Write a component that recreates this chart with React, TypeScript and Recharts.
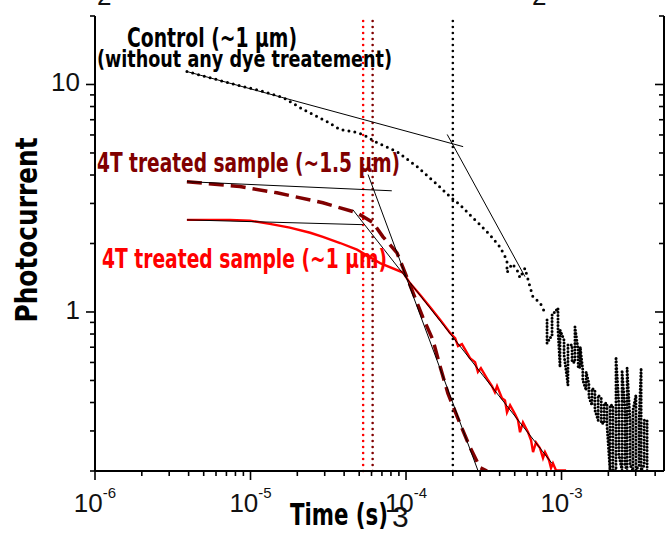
import React from 'react';
import { ComposedChart, Line, XAxis, YAxis, ReferenceLine } from 'recharts';

// values (time in s, photocurrent in a.u.)
const controlTrace: [number, number][] = [
  [3.9e-6, 11.4], [5.5e-6, 10.7], [7.9e-6, 10.0], [1.15e-5, 9.4], [1.62e-5, 8.77],
  [2.18e-5, 7.77], [3.1e-5, 6.87], [3.77e-5, 6.34], [4.56e-5, 6.21], [5.28e-5, 6.03],
  [6.51e-5, 5.55], [8.75e-5, 5.07], [1.18e-4, 4.35], [1.54e-4, 3.7], [1.92e-4, 3.21],
  [2.22e-4, 2.96], [2.65e-4, 2.62], [2.99e-4, 2.42], [3.47e-4, 2.18], [4.02e-4, 1.93],
  [4.46e-4, 1.69], [4.46e-4, 1.49], [4.81e-4, 1.63], [5.18e-4, 1.53], [5.41e-4, 1.41],
  [5.82e-4, 1.56], [6.27e-4, 1.29], [6.56e-4, 1.16], [7.27e-4, 1.1], [7.83e-4, 0.99],
];

// noisy tail of the control trace: [time, upper value, lower value] per column
const controlTail: [number, number, number][] = [
  [8.07e-4, 0.923, 0.73], [8.69e-4, 0.97, 0.792], [9.49e-4, 1.04, 0.834], [9.78e-4, 0.834, 0.573],
  [1.038e-3, 0.753, 0.647], [1.1e-3, 0.716, 0.477], [1.169e-3, 0.716, 0.602], [1.22e-3, 0.859, 0.602],
  [1.28e-3, 0.681, 0.567], [1.32e-3, 0.702, 0.573], [1.37e-3, 0.555, 0.501], [1.44e-3, 0.545, 0.453],
  [1.5e-3, 0.486, 0.423], [1.57e-3, 0.462, 0.389], [1.64e-3, 0.453, 0.37], [1.72e-3, 0.431, 0.334],
  [1.8e-3, 0.418, 0.324], [1.88e-3, 0.397, 0.324], [1.96e-3, 0.397, 0.318], [2.05e-3, 0.389, 0.201],
  [2.14e-3, 0.389, 0.201], [2.24e-3, 0.634, 0.201], [2.34e-3, 0.389, 0.234], [2.45e-3, 0.555, 0.201],
  [2.56e-3, 0.37, 0.212], [2.64e-3, 0.567, 0.201], [2.76e-3, 0.334, 0.212], [2.88e-3, 0.37, 0.201],
  [3.01e-3, 0.431, 0.201], [3.15e-3, 0.334, 0.212], [3.25e-3, 0.567, 0.201], [3.4e-3, 0.334, 0.212],
  [3.55e-3, 0.334, 0.201],
];

const thickTrace: [number, number][] = [
  [3.9e-6, 3.74], [8.55e-6, 3.56], [1.48e-5, 3.34], [2.92e-5, 3.02], [4.84e-5, 2.73],
  [6.14e-5, 2.47], [7.11e-5, 2.14], [8.75e-5, 1.82], [1.03e-4, 1.38], [1.28e-4, 0.951],
  [1.49e-4, 0.753], [1.66e-4, 0.573], [1.86e-4, 0.439], [2.22e-4, 0.324], [2.58e-4, 0.254],
  [2.99e-4, 0.207], [3.32e-4, 0.2],
];

const thinTrace: [number, number][] = [
  [3.9e-6, 2.54], [7.38e-6, 2.54], [9.93e-6, 2.52], [1.33e-5, 2.44], [1.79e-5, 2.35],
  [2.42e-5, 2.23], [2.92e-5, 2.14], [3.77e-5, 2.01], [4.84e-5, 1.88], [6.81e-5, 1.64],
  [9.57e-5, 1.49], [1.06e-4, 1.34], [1.23e-4, 1.19], [1.43e-4, 1.05], [1.66e-4, 0.923],
  [1.92e-4, 0.808], [2.07e-4, 0.768], [2.16e-4, 0.708], [2.29e-4, 0.722], [2.58e-4, 0.627],
  [2.78e-4, 0.602], [2.9e-4, 0.545], [3.03e-4, 0.567], [3.37e-4, 0.501], [3.57e-4, 0.472],
  [3.73e-4, 0.444], [3.85e-4, 0.472], [4.14e-4, 0.418], [4.33e-4, 0.409], [4.46e-4, 0.362],
  [4.67e-4, 0.389], [5.02e-4, 0.356], [5.25e-4, 0.334], [5.41e-4, 0.296], [5.65e-4, 0.327],
  [6.09e-4, 0.296], [6.37e-4, 0.273], [6.56e-4, 0.242], [6.85e-4, 0.267], [7.27e-4, 0.252],
  [7.6e-4, 0.228], [7.83e-4, 0.242], [8.31e-4, 0.223], [8.56e-4, 0.206], [8.81e-4, 0.216],
  [9.22e-4, 0.201], [1.07e-3, 0.201],
];

// fitted straight lines (two end points each)
const controlFitEarly: [number, number][] = [[3.9e-6, 11.4], [2.33e-4, 5.33]];
const controlFitLate: [number, number][] = [[1.84e-4, 6.03], [5.82e-4, 1.43]];
const thickFitEarly: [number, number][] = [[3.9e-6, 3.74], [8.1e-5, 3.41]];
const thickFitLate: [number, number][] = [[5.7e-5, 4.02], [2.9e-4, 0.201]];
const thinFitEarly: [number, number][] = [[3.9e-6, 2.54], [5.28e-5, 2.42]];
const thinFitLate: [number, number][] = [[4.56e-5, 2.81], [8.69e-4, 0.216]];

// vertical transition markers
const markerTimes = [5.3e-5, 6.1e-5, 2e-4];

const xMajor = [1e-6, 1e-5, 1e-4, 1e-3];
const yMajor = [1, 10];
const mantissas = [2, 3, 4, 5, 6, 7, 8, 9];

const X_DOMAIN: [number, number] = [1e-6, 4.56e-3];
const Y_DOMAIN: [number, number] = [0.2, 20];

const withMinors = (majors: number[], lo: number, hi: number) => {
  const out: number[] = [];
  [majors[0] / 10, ...majors].forEach((m) => {
    mantissas.forEach((k) => {
      const v = +(k * m).toPrecision(3);
      if (v >= lo && v <= hi) out.push(v);
    });
  });
  return [...majors, ...out].sort((a, b) => a - b);
};

const xTicks = withMinors(xMajor, X_DOMAIN[0], X_DOMAIN[1]);
const yTicks = withMinors(yMajor, Y_DOMAIN[0], Y_DOMAIN[1]);

const pts = (arr: [number, number][]) => arr.map(([t, v]) => ({ t, v }));

// walk the columns up and down so the dotted stroke fills them
const tailPts = controlTail.flatMap(([t, hi, lo], i) =>
  i % 2 === 0 ? [{ t, v: hi }, { t, v: lo }] : [{ t, v: lo }, { t, v: hi }]
);

const NUM_FONT = "'Liberation Sans Narrow', 'Arial Narrow', 'Liberation Sans', Arial, sans-serif";
const TITLE_FONT = "'Liberation Sans Narrow', 'DejaVu Sans Condensed', 'Liberation Sans', sans-serif";
const RED = '#ff0000';
const DARK_RED = '#800000';
const markerColors = [RED, DARK_RED, '#000000'];

const isMajor = (v: number) => {
  const l = Math.log10(v);
  return Math.abs(l - Math.round(l)) < 1e-6;
};

const BottomTick = (props: any) => {
  const { x, y, payload } = props;
  const major = isMajor(payload.value);
  return (
    <g>
      <line x1={x} x2={x} y1={y} y2={y + (major ? 9 : 5)} stroke="#000" strokeWidth={1.6} />
      {major && (
        <text x={x} y={y + 41} textAnchor="middle" fontFamily={NUM_FONT} fontSize={26} fill="#111">
          10
          <tspan fontSize={15} dy={-14}>
            {Math.round(Math.log10(payload.value))}
          </tspan>
        </text>
      )}
    </g>
  );
};

const TopTick = (props: any) => {
  const { x, y, payload } = props;
  const major = isMajor(payload.value);
  return <line x1={x} x2={x} y1={y} y2={y + (major ? 9 : 5)} stroke="#000" strokeWidth={1.6} />;
};

const LeftTick = (props: any) => {
  const { x, y, payload } = props;
  const major = isMajor(payload.value);
  return (
    <g>
      <line x1={x - (major ? 9 : 5)} x2={x} y1={y} y2={y} stroke="#000" strokeWidth={1.6} />
      {major && (
        <text x={x - 15} y={y + 7} textAnchor="end" fontFamily={NUM_FONT} fontSize={26} fill="#111">
          {payload.value}
        </text>
      )}
    </g>
  );
};

const RightTick = (props: any) => {
  const { x, y, payload } = props;
  const major = isMajor(payload.value);
  return <line x1={x - (major ? 9 : 5)} x2={x} y1={y} y2={y} stroke="#000" strokeWidth={1.6} />;
};

const axisLine = { stroke: '#000', strokeWidth: 2 };

export default function App() {
  return (
    <div style={{ position: 'absolute', left: 0, top: 0, width: 665, height: 533, background: '#fff' }}>
      <ComposedChart width={665} height={533} margin={{ top: 16, right: 0, bottom: 0, left: 0 }}>
        <XAxis
          xAxisId="b"
          dataKey="t"
          type="number"
          scale="log"
          domain={X_DOMAIN}
          allowDataOverflow
          ticks={xTicks}
          interval={0}
          height={62}
          tickSize={0}
          tickMargin={0}
          tickLine={false}
          axisLine={axisLine}
          tick={BottomTick}
        />
        <XAxis
          xAxisId="top"
          orientation="top"
          dataKey="t"
          type="number"
          scale="log"
          domain={X_DOMAIN}
          allowDataOverflow
          ticks={xTicks}
          interval={0}
          height={0}
          tickSize={0}
          tickMargin={0}
          tickLine={false}
          axisLine={axisLine}
          tick={TopTick}
        />
        <YAxis
          yAxisId="l"
          type="number"
          scale="log"
          domain={Y_DOMAIN}
          allowDataOverflow
          ticks={yTicks}
          interval={0}
          width={95}
          tickSize={0}
          tickMargin={0}
          tickLine={false}
          axisLine={axisLine}
          tick={LeftTick}
        />
        <YAxis
          yAxisId="r"
          orientation="right"
          type="number"
          scale="log"
          domain={Y_DOMAIN}
          allowDataOverflow
          ticks={yTicks}
          interval={0}
          width={1}
          tickSize={0}
          tickMargin={0}
          tickLine={false}
          axisLine={axisLine}
          tick={RightTick}
        />

        {markerTimes.map((t, i) => (
          <ReferenceLine
            key={t}
            xAxisId="b"
            yAxisId="l"
            x={t}
            stroke={markerColors[i]}
            strokeWidth={2.6}
            strokeDasharray="0 6"
            strokeLinecap="round"
          />
        ))}

        <Line
          xAxisId="b"
          yAxisId="l"
          data={pts(controlTrace)}
          dataKey="v"
          type="linear"
          stroke="#000"
          strokeWidth={3}
          strokeDasharray="0 6"
          strokeLinecap="round"
          dot={false}
          isAnimationActive={false}
        />
        <Line
          xAxisId="b"
          yAxisId="l"
          data={tailPts}
          dataKey="v"
          type="linear"
          stroke="#000"
          strokeWidth={3}
          strokeDasharray="0 3.3"
          strokeLinecap="round"
          dot={false}
          isAnimationActive={false}
        />
        <Line
          xAxisId="b"
          yAxisId="l"
          data={pts(thinTrace)}
          dataKey="v"
          type="linear"
          stroke={RED}
          strokeWidth={2.4}
          dot={false}
          isAnimationActive={false}
        />
        <Line
          xAxisId="b"
          yAxisId="l"
          data={pts(thickTrace)}
          dataKey="v"
          type="linear"
          stroke={DARK_RED}
          strokeWidth={3.5}
          strokeDasharray="15 7"
          dot={false}
          isAnimationActive={false}
        />
        {[controlFitEarly, controlFitLate, thickFitEarly, thickFitLate, thinFitEarly, thinFitLate].map((fit, i) => (
          <Line
            key={i}
            xAxisId="b"
            yAxisId="l"
            data={pts(fit)}
            dataKey="v"
            type="linear"
            stroke="#000"
            strokeWidth={1}
            dot={false}
            isAnimationActive={false}
          />
        ))}
      </ComposedChart>

      <svg
        width={665}
        height={533}
        style={{ position: 'absolute', left: 0, top: 0, pointerEvents: 'none', overflow: 'visible' }}
      >
        <text x={97} y={5} fontFamily={NUM_FONT} fontSize={26} fill="#111">2</text>
        <text x={532} y={5} fontFamily={NUM_FONT} fontSize={26} fill="#111">2</text>

        <g fontFamily={TITLE_FONT} fontWeight="bold">
          <text x={127} y={47} fontSize={27} fill="#000" textLength={170} lengthAdjust="spacingAndGlyphs">
            Control (~1 µm)
          </text>
          <text x={97} y={67} fontSize={23} fill="#000" textLength={295} lengthAdjust="spacingAndGlyphs">
            (without any dye treatement)
          </text>
          <text x={97} y={172} fontSize={27} fill={DARK_RED} textLength={303} lengthAdjust="spacingAndGlyphs">
            4T treated sample (~1.5 µm)
          </text>
          <text x={102} y={268} fontSize={27} fill={RED} textLength={285} lengthAdjust="spacingAndGlyphs">
            4T treated sample (~1 µm)
          </text>
          <text
            x={27}
            y={230}
            fontSize={30}
            fill="#000"
            textAnchor="middle"
            transform="rotate(-90 27 230)"
            dy={10}
            textLength={185}
            lengthAdjust="spacingAndGlyphs"
          >
            Photocurrent
          </text>
          <text x={290} y={525} fontSize={30} fill="#000" textLength={98} lengthAdjust="spacingAndGlyphs">
            Time (s)
          </text>
        </g>
        <text x={392} y={527} fontFamily={NUM_FONT} fontSize={30} fill="#111">3</text>
      </svg>
    </div>
  );
}
